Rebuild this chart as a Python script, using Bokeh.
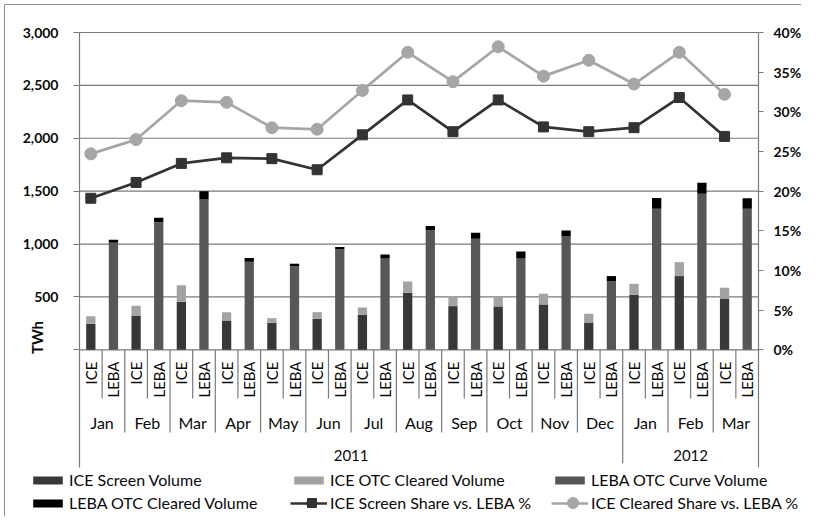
import math
from bokeh.plotting import figure
from bokeh.models import (Range1d, LinearAxis, FixedTicker, NumeralTickFormatter,
                          Legend, LegendItem)
from bokeh.core.properties import value
from bokeh.embed import file_html
from bokeh.resources import INLINE

# ---------------- data ----------------
months = ["Jan", "Feb", "Mar", "Apr", "May", "Jun", "Jul", "Aug", "Sep", "Oct", "Nov", "Dec",
          "Jan", "Feb", "Mar"]
years = ["2011"] * 12 + ["2012"] * 3
year_labels = ["2011", "2012"]
types = ["ICE", "LEBA"]

ice_screen = [246, 325, 454, 277, 255, 293, 331, 539, 413, 410, 429, 258, 520, 697, 485]
ice_otc_cleared = [72, 91, 157, 79, 44, 63, 69, 107, 94, 91, 101, 83, 104, 132, 102]
leba_curve = [1013, 1205, 1422, 833, 791, 952, 867, 1129, 1050, 867, 1072, 649, 1334, 1476, 1334]
leba_cleared = [28, 44, 76, 34, 23, 19, 35, 41, 57, 63, 57, 48, 101, 104, 98]
screen_share_pct = [19.1, 21.1, 23.5, 24.2, 24.1, 22.7, 27.1, 31.5, 27.5, 31.5, 28.1, 27.5, 28.0, 31.8, 26.9]
cleared_share_pct = [24.7, 26.5, 31.4, 31.2, 28.0, 27.8, 32.7, 37.5, 33.8, 38.2, 34.5, 36.5, 33.5, 37.5, 32.2]

left_ticks = [0, 500, 1000, 1500, 2000, 2500, 3000]
right_ticks = [0, 0.05, 0.10, 0.15, 0.20, 0.25, 0.30, 0.35, 0.40]

legend_labels = ["ICE Screen Volume", "ICE OTC Cleared Volume", "LEBA OTC Curve Volume",
                 "LEBA OTC Cleared Volume", "ICE Screen Share vs. LEBA %", "ICE Cleared Share vs. LEBA %"]

# ---------------- layout / style constants (pixels) ----------------
W, H = 801, 516
PX_LEFT, PX_RIGHT = 79, 758      # plot area left/right
PX_TOP, PX_ZERO = 32, 349.3      # y of 3,000 and of 0
PX_TABLE_BOTTOM = 467
PX_BAR_SEP, PX_MONTH_SEP, PX_YEAR_SEP = 398, 432, 463
PX_TYPE_LABEL, PX_MONTH_LABEL, PX_YEAR_LABEL = 361, 422, 455
PX_BORDER = 4
Y_MAX = 3000
PCT_MAX = 0.40

LEG_X, LEG_Y = 29, 2
LEG_GLYPH_W, LEG_STANDOFF, LEG_LABEL_W, LEG_ROW_H = 37, 3, 221, 23
LEG_NCOLS = 3

FONT = "Lato"
TXT = "#0a0a0a"
GRID = "#7a7a7a"
C_ICE_SCREEN = "#383838"
C_ICE_OTC = "#a3a3a3"
C_LEBA_CURVE = "#575757"
C_LEBA_CLEARED = "#000000"
C_SCREEN_LINE = "#333333"
C_CLEARED_LINE = "#a6a6a6"
BAR_W = 0.41

n = len(months)
slots = len(types) * n
kx = (PX_RIGHT - PX_LEFT) / slots
ky = (PX_ZERO - PX_TOP) / Y_MAX


def ypx(py):
    return (PX_ZERO - py) / ky


def xpx(px):
    return (px - PX_LEFT) / kx


ice_x = [len(types) * i + 0.5 for i in range(n)]
leba_x = [len(types) * i + 1.5 for i in range(n)]

y0, y1 = ypx(H), ypx(0)
p = figure(width=W, height=H, output_backend="svg", toolbar_location=None,
           x_range=Range1d(xpx(0), xpx(W)), y_range=Range1d(y0, y1),
           x_axis_location=None, min_border=0)
p.outline_line_color = None
p.background_fill_color = "white"
p.border_fill_color = "white"
p.xgrid.visible = False
p.ygrid.visible = False

s = PCT_MAX / Y_MAX
p.extra_y_ranges = {"pct": Range1d(y0 * s, y1 * s)}

# chart-area border (top and left edges)
p.segment(x0=[xpx(PX_BORDER), xpx(PX_BORDER)], y0=[ypx(PX_BORDER), ypx(PX_BORDER)],
          x1=[xpx(W), xpx(PX_BORDER)], y1=[ypx(PX_BORDER), ypx(H)],
          line_color="#8a8a8a", line_width=1)

# gridlines (plot area only)
p.segment(x0=[0] * len(left_ticks), y0=left_ticks, x1=[slots] * len(left_ticks), y1=left_ticks,
          line_color=GRID, line_width=1.2)

# left axis
ya = p.yaxis[0]
ya.fixed_location = 0
ya.bounds = (ypx(PX_TABLE_BOTTOM), Y_MAX)
ya.ticker = FixedTicker(ticks=left_ticks)
ya.formatter = NumeralTickFormatter(format="0,0")
ya.major_label_overrides = {0: ""}
ya.axis_line_color = GRID
ya.axis_line_width = 1.2
ya.major_tick_line_color = GRID
ya.major_tick_line_width = 1.2
ya.major_tick_out = 6
ya.major_tick_in = 0
ya.minor_tick_line_color = None
ya.major_label_standoff = 15
ya.major_label_text_font = FONT
ya.major_label_text_font_style = "bold"
ya.major_label_text_font_size = "14px"
ya.major_label_text_color = TXT

# right axis
ra = LinearAxis(y_range_name="pct", ticker=FixedTicker(ticks=right_ticks),
                formatter=NumeralTickFormatter(format="0%"), fixed_location=slots,
                bounds=(ypx(PX_TABLE_BOTTOM) * s, PCT_MAX))
ra.axis_line_color = GRID
ra.axis_line_width = 1.2
ra.major_tick_line_color = GRID
ra.major_tick_line_width = 1.2
ra.major_tick_out = 5
ra.major_tick_in = 0
ra.minor_tick_line_color = None
ra.major_label_standoff = 10
ra.major_label_text_font = FONT
ra.major_label_text_font_style = "bold"
ra.major_label_text_font_size = "14px"
ra.major_label_text_color = TXT
p.add_layout(ra, "right")

# bars
ice_top = [a + b for a, b in zip(ice_screen, ice_otc_cleared)]
leba_top = [a + b for a, b in zip(leba_curve, leba_cleared)]
r1 = p.vbar(x=ice_x, bottom=0, top=ice_screen, width=BAR_W, fill_color=C_ICE_SCREEN, line_color=None)
r2 = p.vbar(x=ice_x, bottom=ice_screen, top=ice_top, width=BAR_W, fill_color=C_ICE_OTC, line_color=None)
r3 = p.vbar(x=leba_x, bottom=0, top=leba_curve, width=BAR_W, fill_color=C_LEBA_CURVE, line_color=None)
r4 = p.vbar(x=leba_x, bottom=leba_curve, top=leba_top, width=BAR_W, fill_color=C_LEBA_CLEARED, line_color=None)

# lines
screen_frac = [v / 100 for v in screen_share_pct]
cleared_frac = [v / 100 for v in cleared_share_pct]
l1 = p.line(ice_x, screen_frac, y_range_name="pct", line_color=C_SCREEN_LINE, line_width=2.7)
m1 = p.scatter(ice_x, screen_frac, y_range_name="pct", marker="square", size=10,
               fill_color=C_SCREEN_LINE, line_color=C_SCREEN_LINE)
l2 = p.line(ice_x, cleared_frac, y_range_name="pct", line_color=C_CLEARED_LINE, line_width=2.7)
m2 = p.scatter(ice_x, cleared_frac, y_range_name="pct", marker="circle", size=12,
               fill_color=C_CLEARED_LINE, line_color=C_CLEARED_LINE)

# category table below the axis
sep_x, sep_y1 = [], []
for b in range(1, slots):
    mi = b // len(types)
    if b % len(types) != 0:
        d = ypx(PX_BAR_SEP)
    elif years[mi] != years[mi - 1]:
        d = ypx(PX_YEAR_SEP)
    else:
        d = ypx(PX_MONTH_SEP)
    sep_x.append(b)
    sep_y1.append(d)
p.segment(x0=sep_x, y0=[0] * len(sep_x), x1=sep_x, y1=sep_y1, line_color=GRID, line_width=1.2)

type_x = [len(types) * i + j + 0.5 for i in range(n) for j in range(len(types))]
type_txt = [t for i in range(n) for t in types]
p.text(x=type_x, y=[ypx(PX_TYPE_LABEL)] * len(type_x), text=type_txt, angle=math.pi / 2,
       text_align="right", text_baseline="middle", text_font=value(FONT),
       text_font_size="15px", text_color=TXT)

month_x = [len(types) * i + len(types) / 2 for i in range(n)]
p.text(x=month_x, y=[ypx(PX_MONTH_LABEL)] * n, text=months, text_align="center",
       text_baseline="middle", text_font=value(FONT), text_font_size="16px", text_color=TXT)

year_x = []
for yl in year_labels:
    idx = [i for i, yv in enumerate(years) if yv == yl]
    year_x.append(len(types) * (idx[0] + idx[-1] + 1) / 2)
p.text(x=year_x, y=[ypx(PX_YEAR_LABEL)] * len(year_x), text=year_labels, text_align="center",
       text_baseline="middle", text_font=value(FONT), text_font_size="15px", text_color=TXT)

# unit label
p.text(x=[xpx(36)], y=[ypx(337)], text=["TWh"], angle=math.pi / 2, text_align="center",
       text_baseline="middle", text_font=value(FONT), text_font_style="bold",
       text_font_size="15px", text_color=TXT)

# legend
renderer_sets = [[r1], [r2], [r3], [r4], [l1, m1], [l2, m2]]
legend = Legend(items=[LegendItem(label=lab, renderers=rs) for lab, rs in zip(legend_labels, renderer_sets)],
                ncols=LEG_NCOLS, orientation="horizontal", location=(LEG_X, LEG_Y),
                glyph_width=LEG_GLYPH_W, glyph_height=10, label_standoff=LEG_STANDOFF,
                label_width=LEG_LABEL_W, label_height=LEG_ROW_H,
                spacing=0, padding=0, margin=0, border_line_color=None, background_fill_alpha=0,
                label_text_font=FONT, label_text_font_size="16px", label_text_color=TXT)
p.add_layout(legend)

# full-size markers behind the legend's line samples
pitch = LEG_GLYPH_W + LEG_STANDOFF + LEG_LABEL_W
nrows = math.ceil(len(legend_labels) / LEG_NCOLS)
mk_x, mk_y = [], []
for idx in (4, 5):
    row, col = divmod(idx, LEG_NCOLS)
    mk_x.append(xpx(LEG_X + 3 + col * pitch + LEG_GLYPH_W / 2))
    mk_y.append(ypx(H - LEG_Y - LEG_ROW_H * (nrows - row - 0.5)))
p.scatter(x=[mk_x[0]], y=[mk_y[0]], marker="square", size=9,
          fill_color=C_SCREEN_LINE, line_color=C_SCREEN_LINE)
p.scatter(x=[mk_x[1]], y=[mk_y[1]], marker="circle", size=11,
          fill_color=C_CLEARED_LINE, line_color=C_CLEARED_LINE)

open("out.html", "w").write(file_html(p, INLINE))
